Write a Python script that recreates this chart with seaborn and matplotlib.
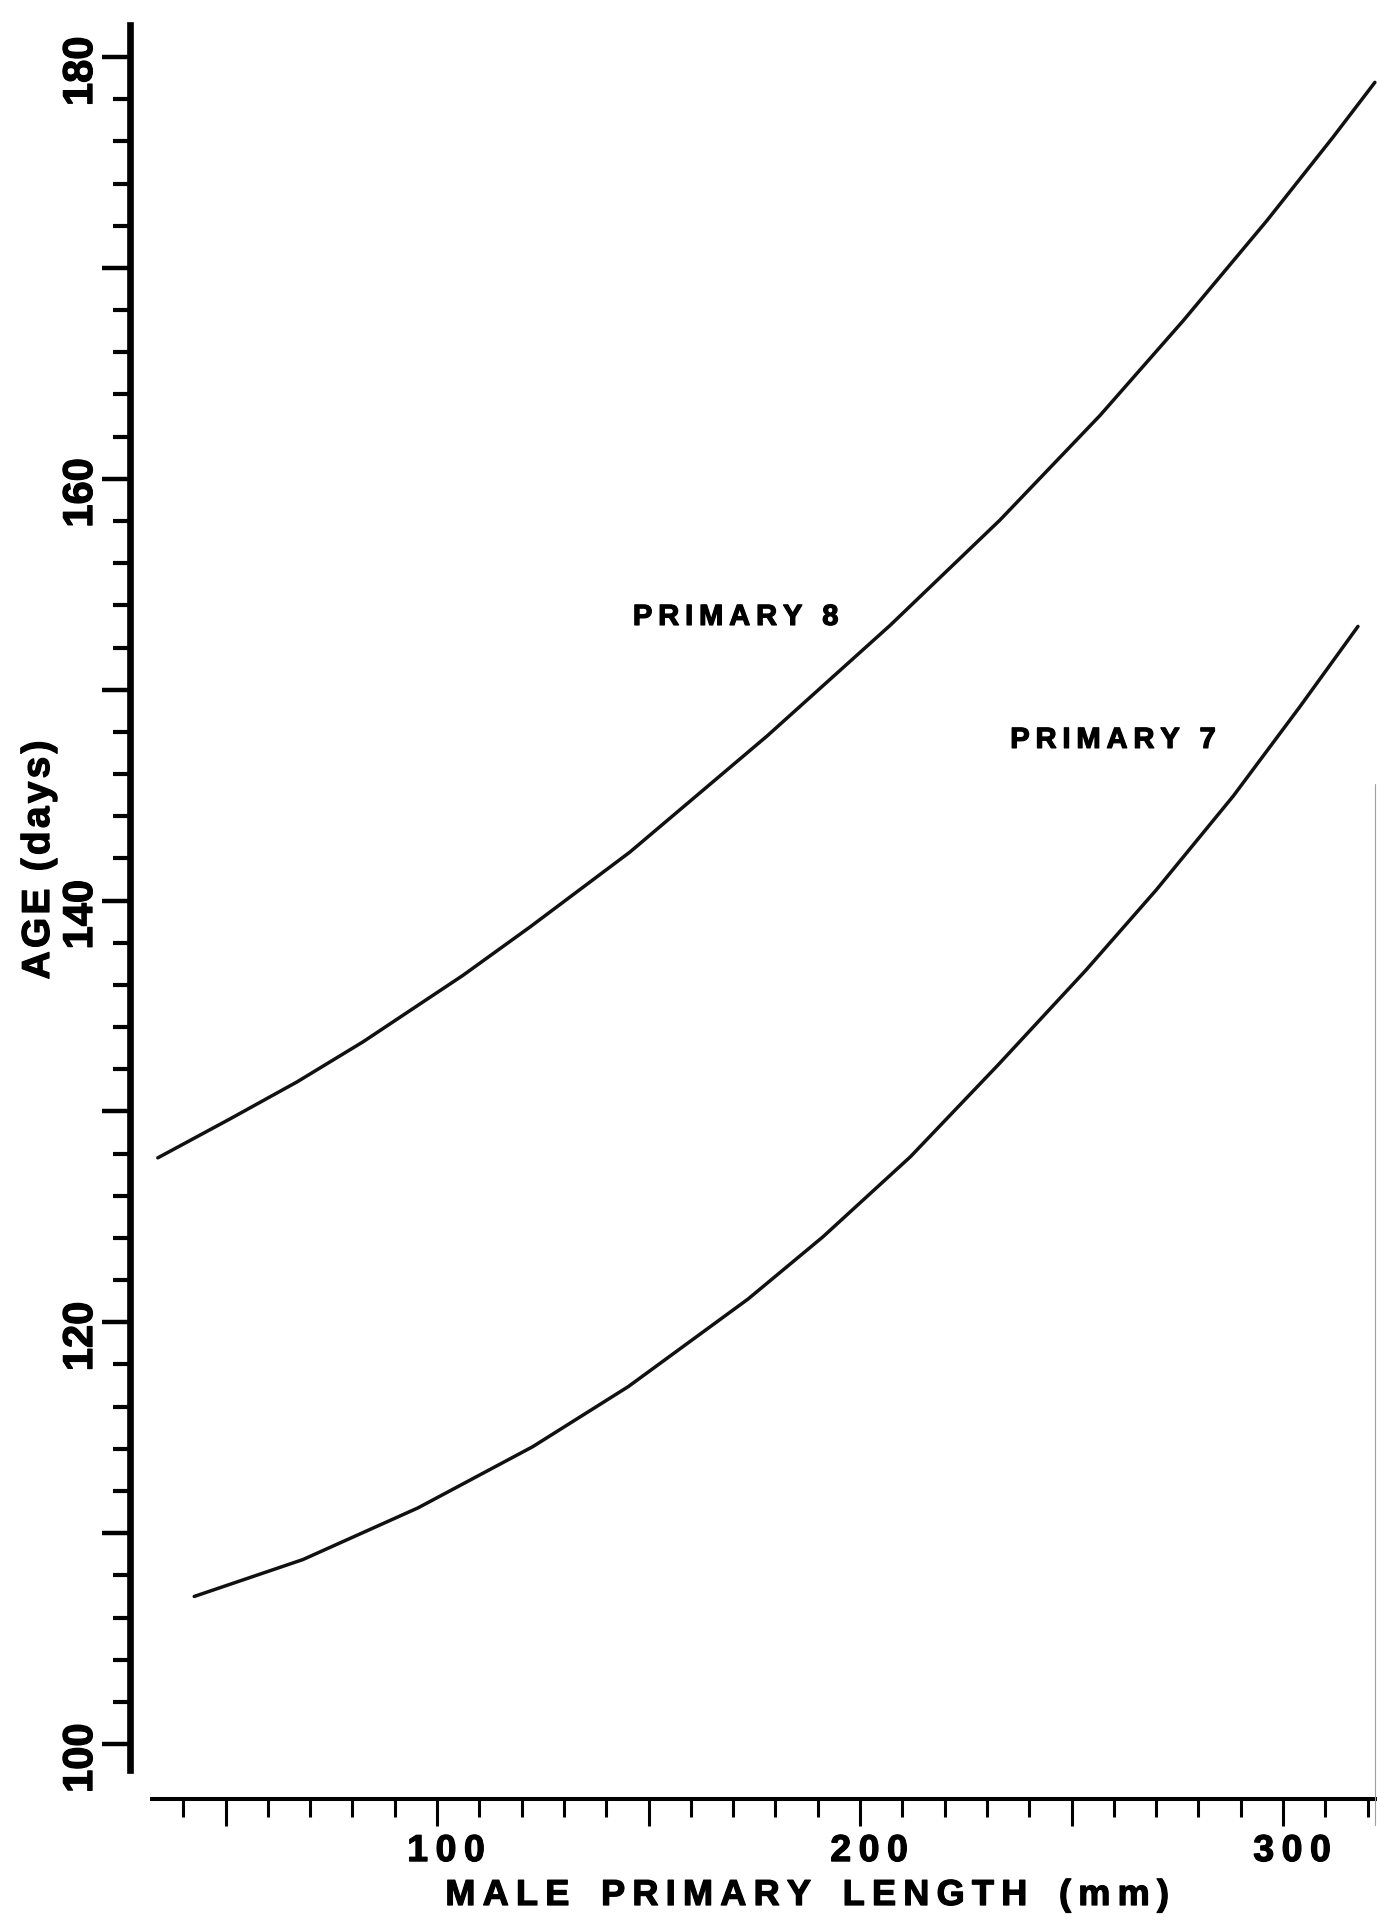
import matplotlib
matplotlib.use("Agg")
import matplotlib.pyplot as plt
import matplotlib.transforms as mtransforms
import matplotlib.patheffects as pe
from matplotlib.lines import Line2D
from matplotlib.ticker import FixedLocator, FuncFormatter
import pandas as pd
import seaborn as sns

# Age (days) against male primary length (mm), one curve per primary
p8_length = [34.0, 51.1, 66.9, 82.5, 106.1, 122.0, 145.6, 178.0, 207.1,
             233.1, 256.7, 276.4, 296.2, 311.8, 321.7]
p8_age = [127.8, 129.65, 131.4, 133.3, 136.45, 138.75, 142.3, 147.8, 153.05,
          158.05, 163.0, 167.5, 172.25, 176.2, 178.8]

p7_length = [42.6, 68.3, 95.5, 122.6, 145.2, 173.5, 191.2, 211.9, 232.6,
             253.4, 270.0, 288.2, 304.0, 317.7]
p7_age = [107.0, 108.75, 111.2, 114.1, 116.95, 121.1, 124.05, 127.85, 132.2,
          136.7, 140.5, 144.95, 149.2, 153.0]

curve_names = ["PRIMARY 8", "PRIMARY 7"]

x_minor_ticks = list(range(40, 321, 10))
x_major_ticks = list(range(50, 301, 50))
x_tick_labels = [100, 200, 300]
y_minor_ticks = list(range(100, 181, 2))
y_major_ticks = list(range(100, 181, 10))
y_tick_labels = [100, 120, 140, 160, 180]

x_title = "MALE PRIMARY LENGTH (mm)"
y_title = "AGE (days)"

THIN = "\u2009"
HAIR = "\u200a"


def tracked(text, gap=THIN, word_gap=THIN + " " + THIN):
    """Letter-spaced version of a label."""
    return word_gap.join(gap.join(word) for word in text.split(" "))


# slightly heavier lettering, like print
heavy = [pe.withStroke(linewidth=0.9, foreground="black")]

df = pd.concat([
    pd.DataFrame({"length": p8_length, "age": p8_age, "primary": curve_names[0]}),
    pd.DataFrame({"length": p7_length, "age": p7_age, "primary": curve_names[1]}),
], ignore_index=True)

sns.set_theme(style="ticks", rc={
    "axes.edgecolor": "black",
    "xtick.color": "black",
    "ytick.color": "black",
    "text.color": "black",
    "axes.labelcolor": "black",
})
plt.rcParams["font.family"] = ["Liberation Sans", "DejaVu Sans"]
plt.rcParams["font.weight"] = "bold"

DPI = 100
W, H = 1377, 1920
fig = plt.figure(figsize=(W / DPI, H / DPI), dpi=DPI, facecolor="white")

# axes frame in pixels: left spine at x=129.5, top 25, bottom 1770
ax_left, ax_right, ax_top, ax_bottom = 129.5, 1377, 25, 1770
ax = fig.add_axes([ax_left / W, 1 - ax_bottom / H,
                   (ax_right - ax_left) / W, (ax_bottom - ax_top) / H])
ax.set_facecolor("white")

sns.lineplot(data=df, x="length", y="age", hue="primary",
             palette=["#111111", "#111111"], estimator=None, sort=True,
             linewidth=2.5, legend=False, ax=ax)
for line in ax.lines:
    line.set_solid_joinstyle("round")
    line.set_solid_capstyle("round")

ax.set_xlim(27.3, 322.2)
ax.set_ylim(98.77, 181.52)

# spines: heavy left axis, detached bottom axis
for side in ("top", "right"):
    ax.spines[side].set_visible(False)
ax.spines["left"].set_linewidth(4.8)
ax.spines["bottom"].set_linewidth(2.9)
ax.spines["bottom"].set_capstyle("butt")
ax.spines["bottom"].set_position(("outward", 20.9))
ax.spines["bottom"].set_bounds(32.2, 322.2)

# y ticks: every 2 days, longer every 10, labels every 20
ax.yaxis.set_major_locator(FixedLocator(y_major_ticks))
ax.yaxis.set_minor_locator(FixedLocator(y_minor_ticks))
ax.yaxis.set_major_formatter(FuncFormatter(
    lambda v, p: str(int(round(v))) if int(round(v)) in y_tick_labels else ""))
ax.tick_params(axis="y", which="major", direction="out", length=20, width=3.2,
               labelsize=30, pad=0.5, labelrotation=90)
ax.tick_params(axis="y", which="minor", direction="out", length=12, width=3.0)

# x ticks: every 10 mm, longer every 50, labels every 100
ax.xaxis.set_major_locator(FixedLocator(x_major_ticks))
ax.xaxis.set_minor_locator(FixedLocator(x_minor_ticks))
ax.xaxis.set_major_formatter(FuncFormatter(
    lambda v, p: tracked(str(int(round(v)))) if int(round(v)) in x_tick_labels else ""))
ax.tick_params(axis="x", which="major", direction="out", length=19.5, width=2.2,
               labelsize=27, pad=5)
ax.tick_params(axis="x", which="minor", direction="out", length=13, width=2.2)

y_shift = mtransforms.ScaledTranslation(0, 5 / DPI, fig.dpi_scale_trans)
for lab in ax.get_yticklabels():
    lab.set_fontweight("bold")
    lab.set_path_effects(heavy)
    lab.set_transform(lab.get_transform() + y_shift)
x_shift = mtransforms.ScaledTranslation(9 / DPI, 0, fig.dpi_scale_trans)
for lab in ax.get_xticklabels():
    lab.set_fontweight("bold")
    lab.set_path_effects(heavy)
    lab.set_transform(lab.get_transform() + x_shift)

# axis titles
ax.set_xlabel(tracked(x_title, word_gap=THIN + " " + THIN + THIN),
              fontsize=26, fontweight="bold", path_effects=heavy)
ax.xaxis.set_label_coords((807 - ax_left) / (ax_right - ax_left),
                          (ax_bottom - 1905) / (ax_bottom - ax_top))
ax.xaxis.label.set_va("baseline")

ax.set_ylabel(tracked(y_title, gap=HAIR, word_gap=HAIR + " " + HAIR),
              fontsize=28, fontweight="bold", path_effects=heavy)
ax.yaxis.set_label_coords((49 - ax_left) / (ax_right - ax_left),
                          (ax_bottom - 860) / (ax_bottom - ax_top))
ax.yaxis.label.set_va("baseline")

# curve labels
ax.text(146.3, 153.07, tracked(curve_names[0]), fontsize=21,
        fontweight="bold", ha="left", va="baseline", path_effects=heavy)
ax.text(235.5, 147.24, tracked(curve_names[1]), fontsize=21,
        fontweight="bold", ha="left", va="baseline", path_effects=heavy)

# faint page edge along the right margin
fig.add_artist(Line2D([1375 / W, 1375 / W], [1 - 784 / H, 1 - 1825 / H],
                      transform=fig.transFigure, color="#a0a0a0", linewidth=0.8))

fig.savefig("out.png", dpi=DPI, facecolor="white")
